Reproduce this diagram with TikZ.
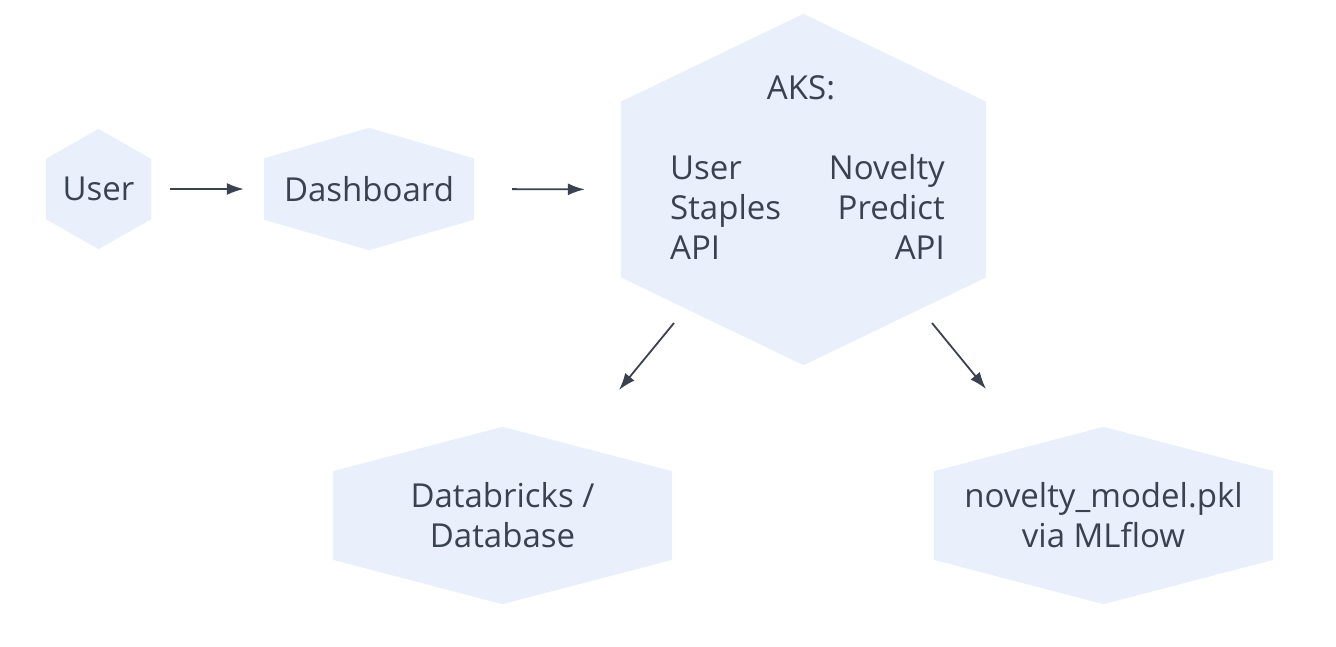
\documentclass[tikz,border=0pt]{standalone}
\usepackage{fontspec}
\setmainfont{Open Sans}
\usetikzlibrary{calc,backgrounds,arrows.meta}
\definecolor{hexfill}{RGB}{233,240,252}
\definecolor{ink}{RGB}{58,66,80}

\begin{document}
\begin{tikzpicture}[x=1pt,y=-1pt,
		hexbox/.style={inner sep=0pt, text=ink, align=center, font=\fontsize{33}{40}\selectfont},
		txt/.style={inner sep=0pt, text=ink, font=\fontsize{33}{40}\selectfont},
		flow/.style={draw=ink, line width=1.8pt, -{Latex[length=17pt,width=12pt]}}]
		\useasboundingbox (0,0) rectangle (1336,646);
		\node[hexbox, minimum width=105, minimum height=120] (user) at (98.5,189) {User};
		\node[hexbox, minimum width=210, minimum height=122] (dash) at (369,189) {Dashboard};
		\node[hexbox, minimum width=365, minimum height=351] (aks) at (803.5,189.5) {};
		\node[hexbox, minimum width=339, minimum height=177] (db) at (502.5,515.5) {Databricks /\\Database};
		\node[hexbox, minimum width=339, minimum height=177] (model) at (1103.5,515.5) {novelty\_model.pkl\\via MLflow};
		\node[txt, anchor=base] (akstitle) at (801,99) {AKS:};
		\node[txt, anchor=base west, align=left] (staples) at (670,259) {User\\Staples\\API};
		\node[txt, anchor=base east, align=right] (predict) at (945,259) {Novelty\\Predict\\API};
		\begin{scope}[on background layer]
		\foreach \n in {user,dash,aks,db,model}
			\fill[hexfill] (\n.north) -- ($(\n.north east)!.25!(\n.south east)$) -- ($(\n.north east)!.75!(\n.south east)$) -- (\n.south) -- ($(\n.north west)!.75!(\n.south west)$) -- ($(\n.north west)!.25!(\n.south west)$) -- cycle;
		\end{scope}
		\coordinate (aksleft) at (674,323);
		\coordinate (dbin) at (619,390);
		\coordinate (aksright) at (932,323);
		\coordinate (modelin) at (986,389);
		\draw[flow, shorten <=19pt, shorten >=20pt] (user.east) -- (dash.west);
		\draw[flow, shorten <=38pt, shorten >=36pt] (dash.east) -- (aks.west);
		\draw[flow] (aksleft) -- (dbin);
		\draw[flow] (aksright) -- (modelin);
\end{tikzpicture}
\end{document}
